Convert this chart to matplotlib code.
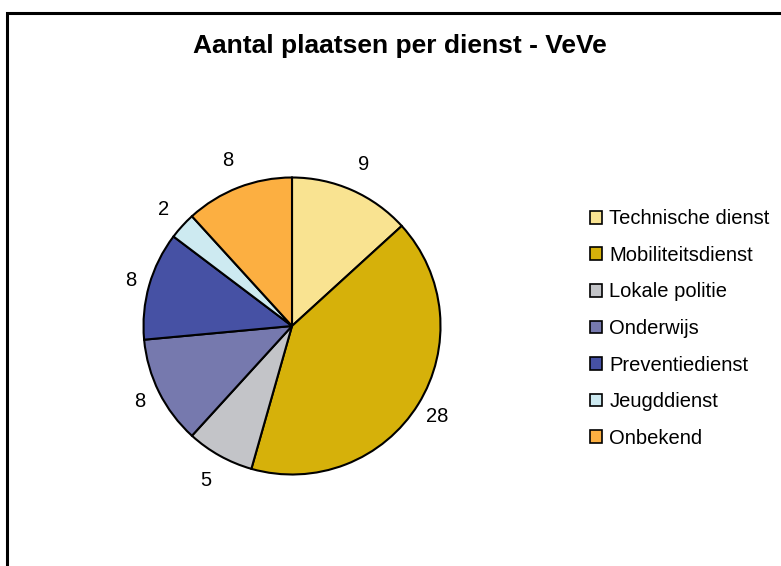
import matplotlib
matplotlib.use("Agg")
import numpy as np
import matplotlib.pyplot as plt
from matplotlib.patches import Rectangle

categories = ["Technische dienst", "Mobiliteitsdienst", "Lokale politie", "Onderwijs",
              "Preventiedienst", "Jeugddienst", "Onbekend"]
values = [9, 28, 5, 8, 8, 2, 8]
colors = ["#F9E391", "#D6B10A", "#C3C4C8", "#7679AE", "#4651A4", "#CDEAF1", "#FCAF41"]
title = "Aantal plaatsen per dienst - VeVe"

plt.rcParams['font.family'] = ['Liberation Sans', 'DejaVu Sans']

W, H = 781, 566
fig = plt.figure(figsize=(W / 100, H / 100), dpi=100)
fig.patch.set_facecolor("white")

# outer chart border (extends past right/bottom edges)
fig.patches.append(Rectangle((7.5 / W, -0.2), 2.0, 1.2 - 12.5 / H, transform=fig.transFigure,
                             fill=False, edgecolor="black", linewidth=2.2))

cx, cy, r = 292, 326, 148.5
ax = fig.add_axes([(cx - r) / W, (H - cy - r) / H, 2 * r / W, 2 * r / H])
total = sum(values)
wedges, texts, autotexts = ax.pie(
    values, colors=colors, startangle=90, counterclock=False,
    wedgeprops=dict(edgecolor="black", linewidth=1.5),
    autopct=lambda p: f"{round(p * total / 100):d}", pctdistance=1.17,
    textprops=dict(fontsize=14.5, color="black"))
for w, t in zip(wedges, autotexts):
    ang = np.deg2rad((w.theta1 + w.theta2) / 2)
    d = 1.10 + 0.10 * abs(np.sin(ang))
    t.set_position((d * np.cos(ang), d * np.sin(ang)))
    t.set_clip_on(False)
ax.set_xlim(-1, 1)
ax.set_ylim(-1, 1)
ax.axis("off")

fig.text(400 / W, 1 - 46.5 / H, title, ha="center", va="center",
         fontsize=19, fontweight="bold")

handles = [Rectangle((0, 0), 1, 1, facecolor=c, edgecolor="black", linewidth=1.2) for c in colors]
fig.legend(handles, categories, loc="center left", bbox_to_anchor=(580 / W, 1 - 328.5 / H),
           frameon=False, fontsize=14.5, handlelength=0.6, handleheight=0.6,
           handletextpad=0.35, labelspacing=0.87, borderpad=0)

fig.savefig("out.png", dpi=100)
